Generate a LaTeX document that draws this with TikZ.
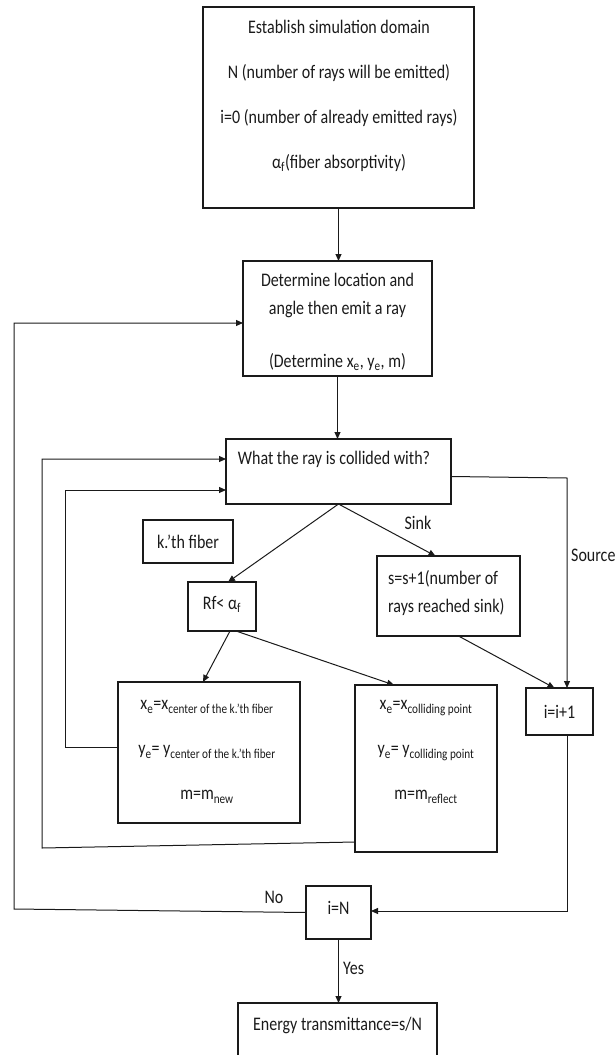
\documentclass[tikz,border=0pt]{standalone}
\usepackage{fontspec}
\setmainfont{Carlito}
\usetikzlibrary{arrows.meta,calc,positioning}
\definecolor{ink}{HTML}{1A1A1A}
\tikzset{
  flowbox/.style={
    draw=ink,
    line width=1.1pt,
    inner sep=0pt,
    outer sep=0pt
  },
  flowtext/.style={
    text=ink,
    align=center,
    inner sep=0pt,
    yscale=1.2,
    font=\fontsize{16}{17}\selectfont
  },
  flowline/.style={
    draw=ink,
    line width=1pt
  },
  flowarrow/.style={
    flowline,
    -{Triangle[length=7pt,width=6pt]}
  },
  flowlabel/.style={
    text=ink,
    inner sep=0pt,
    yscale=1.2,
    font=\fontsize{16}{17}\selectfont
  }
}
\newcommand{\flowbox}[4]{%
  \node[flowbox, minimum width=#3, minimum height=#4] (#1) at (#2) {};
}

\begin{document}
\begin{tikzpicture}[x=1pt,y=-1pt]
  \useasboundingbox (0,0) rectangle (614,1055);

  % --- Box 1: simulation domain ---
  \flowbox{init}{338.5,107.5}{271pt}{201pt}
  \node[flowtext, font=\fontsize{16}{37.5}\selectfont] (init-txt) at (339,96) {%
    Establish simulation domain\\
    N (number of rays will be emitted)\\
    i=0 (number of already emitted rays)\\
    α\textsubscript{f}(fiber absorptivity)};

  % --- Box 2: emit a ray ---
  \flowbox{emit}{337.5,318.5}{189pt}{115pt}
  \node[flowtext, font=\fontsize{16}{23.3}\selectfont] (emit-txt) at (337.5,322) {%
    Determine location and\\
    angle then emit a ray\\[21pt]
    (Determine x\textsubscript{e}, y\textsubscript{e}, m)};

  % --- Box 3: collision test ---
  \flowbox{hit}{338.5,471.5}{225pt}{65pt}
  \node[flowtext] (hit-txt) at (334,459) {What the ray is collided with?};

  % --- Fiber branch ---
  \flowbox{kfib}{188,541.5}{90pt}{43pt}
  \node[flowtext] (kfib-txt) at (kfib) {k.'th fiber};
  \flowbox{rf}{222,606.5}{68pt}{49pt}
  \node[flowtext] (rf-txt) at (222,604) {Rf< α\textsubscript{f}};

  % --- Sink branch ---
  \flowbox{sink}{448.5,596}{143pt}{80pt}
  \node[flowtext, align=left, anchor=west, font=\fontsize{16}{24}\selectfont]
    (sink-txt) at (388,593) {s=s+1(number of\\rays reached sink)};

  % --- Absorbed / reflected ---
  \flowbox{absorb}{209,752.5}{182pt}{141pt}
  \node[flowtext, font=\fontsize{16}{37.5}\selectfont] (absorb-txt) at (207,752) {%
    x\textsubscript{e}=x\textsubscript{center of the k.'th fiber}\\
    y\textsubscript{e}= y\textsubscript{center of the k.'th fiber}\\
    m=m\textsubscript{new}};
  \flowbox{reflect}{426,768.5}{142pt}{167pt}
  \node[flowtext, font=\fontsize{16}{37.5}\selectfont] (reflect-txt) at (426,752) {%
    x\textsubscript{e}=x\textsubscript{colliding point}\\
    y\textsubscript{e}= y\textsubscript{colliding point}\\
    m=m\textsubscript{reflect}};

  % --- Counter, check and result ---
  \flowbox{incr}{559.5,711.5}{67pt}{47pt}
  \node[flowtext] (incr-txt) at (incr) {i=i+1};
  \flowbox{check}{338.5,912.5}{65pt}{53pt}
  \node[flowtext] (check-txt) at (338.5,908) {i=N};
  \flowbox{result}{337.5,1031.5}{199pt}{57pt}
  \node[flowtext] (result-txt) at (337.5,1025) {Energy transmittance=s/N};

  % --- Main flow ---
  \draw[flowarrow] (init.south) -- (init.south |- emit.north);
  \draw[flowarrow] (emit.south) -- (emit.south |- hit.north);
  \draw[flowarrow] (hit.south) -- ($(rf.north)+(6,0)$);
  \draw[flowarrow] (hit.south) -- ($(sink.north)+(-13,0)$);
  \node[flowlabel] (sink-lbl) at (418,523) {Sink};
  \draw[flowarrow] ($(rf.south)+(8,0)$) -- ($(absorb.north)+(-6,0)$);
  \draw[flowarrow] ($(rf.south)+(14,0)$) -- ($(reflect.north)+(-32,0)$);
  \draw[flowarrow] ($(sink.south)+(10,0)$) -- ($(incr.north)+(-5,0)$);

  % --- Source branch ---
  \coordinate (src-turn) at (567,478);
  \draw[flowarrow] ($(hit.east)+(0,5)$) -- (src-turn) -- (src-turn |- incr.north);
  \node[flowlabel, anchor=west] (src-lbl) at (571,555) {Source};

  % --- Loops back to the collision test ---
  \coordinate (absorb-loop) at (65,747);
  \coordinate (absorb-top) at (65,490);
  \draw[flowarrow] (absorb.west |- absorb-loop) -- (absorb-loop)
    -- (absorb-top) -- (hit.west |- absorb-top);
  \coordinate (reflect-loop) at (42,848);
  \coordinate (reflect-top) at (42,459);
  \draw[flowarrow] ($(reflect.south west)+(0,-10)$) -- (reflect-loop)
    -- (reflect-top) -- (hit.west |- reflect-top);

  % --- Counter to check ---
  \coordinate (incr-turn) at (567,911);
  \draw[flowarrow] (incr-turn |- incr.south) -- (incr-turn) -- (check.east |- incr-turn);

  % --- No: emit next ray ---
  \coordinate (no-turn) at (14,909);
  \coordinate (no-top) at (14,323);
  \draw[flowarrow] (check.west) -- (no-turn) -- (no-top) -- (emit.west |- no-top);
  \node[flowlabel] (no-lbl) at (274,897) {No};

  % --- Yes: result ---
  \draw[flowarrow] (check.south) -- (check.south |- result.north);
  \node[flowlabel, anchor=west] (yes-lbl) at (343,968) {Yes};

\end{tikzpicture}
\end{document}
